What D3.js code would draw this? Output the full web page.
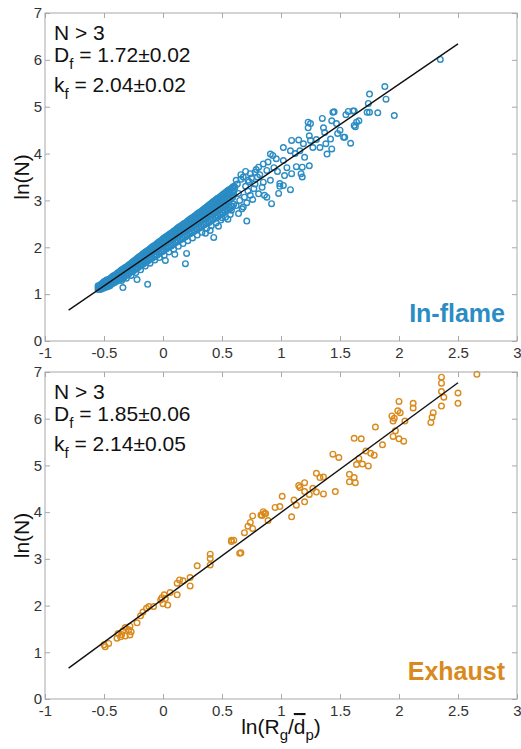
<!DOCTYPE html>
<html>
<head>
<meta charset="utf-8">
<script src="https://cdn.jsdelivr.net/npm/d3@7"></script>
<style>
  body { margin: 0; background: #fff; }
  text { font-family: "Liberation Sans", Arial, sans-serif; }
</style>
</head>
<body>
<div id="chart"></div>
<script>
// axis ticks
const xTicks = [-1, -0.5, 0, 0.5, 1, 1.5, 2, 2.5, 3];
const yTicks = [0, 1, 2, 3, 4, 5, 6, 7];

// fitted lines: ln(N) = ln(kf) + Df * ln(Rg/dp)
const fitX = [-0.8, 2.5];
const inFlameFitY = [0.66, 6.34];
const exhaustFitY = [0.66, 6.77];

const inFlameStats = ["1.72\u00b10.02", "2.04\u00b10.02"];
const exhaustStats = ["1.85\u00b10.06", "2.14\u00b10.05"];

// in-flame: dense core of the cloud, rows of [x, y, y, ...]
const inFlameCore = [
  [-0.55, 1.10, 1.14, 1.18], [-0.53, 1.10, 1.16, 1.20], [-0.51, 1.12, 1.19, 1.24, 1.14],
  [-0.49, 1.14, 1.22, 1.26, 1.17], [-0.47, 1.16, 1.25, 1.29, 1.20], [-0.45, 1.18, 1.30, 1.24, 1.33],
  [-0.43, 1.22, 1.33, 1.28, 1.37], [-0.41, 1.25, 1.38, 1.31, 1.40], [-0.39, 1.28, 1.40, 1.35, 1.44],
  [-0.37, 1.30, 1.45, 1.38, 1.47], [-0.35, 1.33, 1.48, 1.42, 1.52, 1.29], [-0.33, 1.36, 1.51, 1.45, 1.55],
  [-0.31, 1.40, 1.55, 1.49, 1.58, 1.34], [-0.29, 1.43, 1.60, 1.53, 1.62], [-0.27, 1.47, 1.62, 1.56, 1.66, 1.40],
  [-0.25, 1.50, 1.66, 1.60, 1.70], [-0.23, 1.53, 1.70, 1.63, 1.74, 1.46], [-0.21, 1.57, 1.73, 1.67, 1.78],
  [-0.19, 1.60, 1.77, 1.70, 1.82, 1.52], [-0.17, 1.64, 1.80, 1.74, 1.86], [-0.15, 1.67, 1.85, 1.77, 1.90, 1.60],
  [-0.13, 1.70, 1.88, 1.81, 1.93], [-0.11, 1.74, 1.91, 1.85, 1.97, 1.66], [-0.09, 1.77, 1.95, 1.88, 2.01],
  [-0.07, 1.80, 1.98, 1.92, 2.04, 1.73], [-0.05, 1.83, 2.02, 1.95, 2.08], [-0.03, 1.87, 2.05, 1.99, 2.12, 1.78],
  [-0.01, 1.90, 2.09, 2.02, 2.15], [0.01, 1.93, 2.12, 2.06, 2.20, 1.83], [0.03, 1.97, 2.16, 2.09, 2.23],
  [0.05, 2.00, 2.19, 2.13, 2.27, 1.90], [0.07, 2.03, 2.23, 2.16, 2.30], [0.09, 2.06, 2.26, 2.20, 2.34, 1.96],
  [0.11, 2.10, 2.30, 2.23, 2.38], [0.13, 2.13, 2.33, 2.26, 2.42, 2.02], [0.15, 2.16, 2.37, 2.30, 2.45],
  [0.17, 2.19, 2.40, 2.33, 2.49, 2.08], [0.19, 2.22, 2.44, 2.37, 2.52], [0.21, 2.25, 2.47, 2.40, 2.56, 2.14],
  [0.23, 2.29, 2.51, 2.44, 2.60], [0.25, 2.32, 2.54, 2.47, 2.63, 2.20], [0.27, 2.35, 2.58, 2.50, 2.67],
  [0.29, 2.38, 2.61, 2.54, 2.71, 2.26], [0.31, 2.41, 2.65, 2.57, 2.74], [0.33, 2.44, 2.69, 2.61, 2.78, 2.32],
  [0.35, 2.48, 2.72, 2.64, 2.82], [0.37, 2.50, 2.76, 2.68, 2.86, 2.40], [0.39, 2.53, 2.80, 2.71, 2.90],
  [0.41, 2.57, 2.83, 2.75, 2.94, 2.46], [0.43, 2.60, 2.87, 2.78, 2.98], [0.45, 2.63, 2.91, 2.82, 3.02, 2.52],
  [0.47, 2.66, 2.95, 2.85, 3.05], [0.49, 2.70, 2.98, 2.89, 3.09, 2.58], [0.51, 2.73, 3.02, 2.92, 3.13],
  [0.53, 2.76, 3.06, 2.96, 3.17, 2.64], [0.55, 2.80, 3.10, 2.99, 3.21], [0.57, 2.83, 3.14, 3.03, 3.24, 2.70],
  [0.59, 2.87, 3.17, 3.06, 3.28],
  [-0.54, 1.13, 1.17], [-0.52, 1.12, 1.18, 1.22], [-0.50, 1.15, 1.21, 1.27], [-0.48, 1.18, 1.23, 1.30],
  [-0.46, 1.19, 1.27, 1.32], [-0.44, 1.21, 1.31, 1.35], [-0.42, 1.26, 1.34, 1.39], [-0.40, 1.27, 1.37, 1.42],
  [-0.38, 1.31, 1.41, 1.46], [-0.36, 1.35, 1.44, 1.50], [-0.34, 1.38, 1.47, 1.53], [-0.32, 1.42, 1.52, 1.57],
  [-0.30, 1.45, 1.56, 1.60], [-0.28, 1.48, 1.58, 1.64], [-0.26, 1.52, 1.63, 1.68], [-0.24, 1.55, 1.65, 1.72],
  [-0.22, 1.58, 1.69, 1.76], [-0.20, 1.62, 1.72, 1.80], [-0.18, 1.65, 1.76, 1.83], [-0.16, 1.69, 1.79, 1.87],
  [-0.14, 1.72, 1.83, 1.91], [-0.12, 1.75, 1.86, 1.95], [-0.10, 1.79, 1.90, 1.99], [-0.08, 1.82, 1.93, 2.03],
  [-0.06, 1.86, 1.97, 2.06], [-0.04, 1.89, 2.00, 2.10], [-0.02, 1.92, 2.04, 2.14], [0.00, 1.95, 2.07, 2.18],
  [0.02, 1.99, 2.11, 2.22], [0.04, 2.02, 2.14, 2.25], [0.06, 2.05, 2.18, 2.29], [0.08, 2.08, 2.21, 2.32],
  [0.10, 2.12, 2.25, 2.36], [0.12, 2.15, 2.28, 2.40], [0.14, 2.18, 2.32, 2.44], [0.16, 2.21, 2.35, 2.47],
  [0.18, 2.24, 2.39, 2.51], [0.20, 2.27, 2.42, 2.54], [0.22, 2.31, 2.46, 2.58], [0.24, 2.34, 2.49, 2.62],
  [0.26, 2.36, 2.53, 2.65], [0.28, 2.40, 2.56, 2.69], [0.30, 2.43, 2.60, 2.73], [0.32, 2.46, 2.63, 2.76],
  [0.34, 2.49, 2.67, 2.80], [0.36, 2.52, 2.70, 2.84], [0.38, 2.55, 2.74, 2.88], [0.40, 2.58, 2.77, 2.92],
  [0.42, 2.61, 2.81, 2.96], [0.44, 2.65, 2.84, 3.00], [0.46, 2.68, 2.88, 3.04], [0.48, 2.72, 2.91, 3.07],
  [0.50, 2.75, 2.95, 3.11], [0.52, 2.78, 2.98, 3.15], [0.54, 2.82, 3.02, 3.19], [0.56, 2.85, 3.05, 3.23],
  [0.58, 2.88, 3.09, 3.26], [0.60, 2.92, 3.12, 3.30]
];

// in-flame: scattered points around and above the core
const inFlameScatter = [
  [2.35, 6.01], [1.88, 5.43], [1.89, 5.16], [1.96, 4.81], [1.75, 5.27], [1.74, 5.07], [1.73, 4.88],
  [1.75, 4.88], [1.82, 4.87], [1.62, 4.91], [1.57, 4.90], [1.55, 4.83], [1.66, 4.70], [1.62, 4.60],
  [1.64, 4.67], [1.59, 4.22], [1.54, 4.35], [1.48, 4.43], [1.44, 4.88], [1.43, 4.70], [1.47, 4.64],
  [1.25, 4.64], [1.23, 4.55], [1.36, 4.55], [1.37, 4.45], [1.42, 4.31], [1.43, 4.10], [1.38, 4.21],
  [1.39, 3.99], [1.33, 4.13], [1.24, 4.38], [1.25, 4.28], [1.27, 4.13], [1.19, 4.21], [1.15, 4.29],
  [1.09, 4.28], [1.02, 4.13], [1.08, 4.06], [1.16, 4.06], [1.20, 3.92], [1.24, 3.74], [1.18, 3.71],
  [1.13, 3.72], [1.18, 3.50], [1.17, 3.57], [1.09, 3.57], [1.03, 3.53], [0.99, 3.36], [1.08, 3.23],
  [1.02, 3.85], [0.96, 3.89], [0.93, 3.96], [0.91, 3.99], [0.85, 3.78], [0.88, 3.64], [0.81, 3.71],
  [0.78, 3.60], [0.74, 3.57], [0.72, 3.43], [0.68, 3.50], [0.62, 3.43], [0.61, 3.28], [0.85, 3.39],
  [0.91, 3.43], [0.84, 3.28], [0.77, 3.25], [0.81, 3.14], [0.86, 3.11], [0.92, 2.93], [0.88, 3.07],
  [0.74, 3.11], [0.69, 3.07], [0.65, 3.00], [0.68, 2.86], [0.62, 2.89], [0.64, 2.72], [0.58, 2.79],
  [1.02, 3.32], [0.99, 3.30], [1.61, 4.91], [1.45, 4.89], [1.63, 4.57], [1.53, 4.35], [1.23, 4.67],
  [1.12, 4.00], [1.05, 3.70], [0.97, 3.62], [1.30, 4.30], [1.35, 4.75], [1.50, 4.50],
  [0.60, 3.20], [0.63, 3.35], [0.66, 3.45], [0.70, 3.30], [0.73, 3.40], [0.75, 3.48], [0.70, 3.62],
  [0.66, 3.55], [0.78, 3.35], [0.80, 3.50], [0.82, 3.55], [0.79, 3.66], [0.76, 3.02], [0.71, 2.95],
  [0.67, 2.82], [0.64, 3.15], [0.72, 3.20], [0.94, 3.70], [0.89, 3.82], [0.98, 3.15],
  [-0.13, 1.21], [0.19, 1.65], [0.20, 1.87], [0.02, 1.72], [-0.34, 1.14], [-0.22, 1.31], [0.43, 2.21],
  [0.40, 2.36], [0.71, 2.56], [0.50, 2.63], [0.55, 2.60], [0.47, 2.45], [0.36, 2.30], [0.10, 1.85]
];

// exhaust points [x, y]
const exhaustPoints = [
  [2.66, 6.95], [2.36, 6.89], [2.36, 6.76], [2.36, 6.58], [2.38, 6.46], [2.36, 6.27], [2.50, 6.55],
  [2.50, 6.33], [2.29, 6.13], [2.28, 6.03], [2.27, 5.92], [2.00, 6.37], [2.12, 6.33], [2.12, 6.23],
  [1.99, 6.17], [2.01, 6.13], [1.94, 6.06], [1.96, 6.01], [1.95, 5.95], [2.05, 5.95], [1.97, 5.74],
  [1.95, 5.62], [2.00, 5.57], [2.04, 5.52], [1.80, 5.82], [1.86, 5.44], [1.62, 5.58], [1.68, 5.57],
  [1.44, 5.24], [1.49, 5.17], [1.72, 5.31], [1.76, 5.26], [1.79, 5.22], [1.66, 5.15], [1.64, 5.02],
  [1.69, 5.03], [1.74, 4.99], [1.58, 4.81], [1.62, 4.74], [1.58, 4.65], [1.63, 4.63], [1.46, 4.44],
  [1.30, 4.83], [1.33, 4.74], [1.36, 4.75], [1.20, 4.63], [1.15, 4.57], [1.16, 4.53], [1.27, 4.51],
  [1.20, 4.44], [1.24, 4.38], [1.30, 4.43], [1.36, 4.39], [1.11, 4.26], [1.13, 4.15], [1.20, 4.22],
  [1.01, 4.34], [0.95, 4.10], [0.99, 4.12], [1.09, 3.90], [0.84, 3.93], [0.86, 3.97], [0.89, 3.82],
  [0.85, 4.01], [0.87, 3.97], [0.83, 3.94], [0.76, 3.92], [0.74, 3.78], [0.72, 3.70], [0.76, 3.65],
  [0.69, 3.56], [0.58, 3.40], [0.60, 3.40], [0.66, 3.13], [0.40, 3.10], [0.40, 3.01], [0.40, 2.87],
  [0.29, 2.85], [0.23, 2.60], [0.14, 2.55], [0.17, 2.53], [0.12, 2.48], [0.23, 2.42], [0.12, 2.23],
  [0.06, 2.28], [0.01, 2.23], [-0.01, 2.17], [-0.02, 2.12], [0.00, 2.04], [0.04, 2.01], [0.02, 2.15],
  [-0.08, 1.98], [-0.12, 1.98], [-0.14, 1.94], [-0.17, 1.86], [-0.19, 1.78], [-0.22, 1.63],
  [-0.28, 1.56], [-0.32, 1.53], [-0.29, 1.48], [-0.34, 1.46], [-0.27, 1.44], [-0.38, 1.40],
  [-0.35, 1.38], [-0.28, 1.37], [-0.32, 1.35], [-0.39, 1.30], [-0.36, 1.33], [-0.46, 1.19],
  [-0.49, 1.12], [-0.50, 1.16], [0.65, 3.12], [0.58, 3.37]
];

const inFlamePoints = inFlameCore
  .flatMap(r => r.slice(1).map(y => [r[0], y]))
  .concat(inFlameScatter);

const panels = [
  { label: "In-flame", color: "#2b8cc4", points: inFlamePoints, fitY: inFlameFitY, stats: inFlameStats, top: 13, bottom: 341 },
  { label: "Exhaust", color: "#da8a1c", points: exhaustPoints, fitY: exhaustFitY, stats: exhaustStats, top: 372, bottom: 699 }
];

const width = 521, height = 749;
const left = 45, right = 517;
const axisColor = "#a8a8a8";
const labelColor = "#333";

const svg = d3.select("#chart").append("svg")
  .attr("width", width)
  .attr("height", height);

const x = d3.scaleLinear().domain([-1, 3]).range([left, right]);
const fmt = d => String(d);

panels.forEach((p, i) => {
  const y = d3.scaleLinear().domain([0, 7]).range([p.bottom, p.top]);
  const g = svg.append("g");

  // points
  g.append("g").selectAll("circle")
    .data(p.points)
    .enter().append("circle")
    .attr("cx", d => x(d[0]))
    .attr("cy", d => y(d[1]))
    .attr("r", 2.8)
    .attr("fill", "none")
    .attr("stroke", p.color)
    .attr("stroke-width", 1.4);

  // fit line
  g.append("line")
    .attr("x1", x(fitX[0])).attr("y1", y(p.fitY[0]))
    .attr("x2", x(fitX[1])).attr("y2", y(p.fitY[1]))
    .attr("stroke", "#111")
    .attr("stroke-width", 1.4);

  // axes, ticks pointing inward
  const ax = [
    g.append("g").attr("transform", `translate(0,${p.bottom})`)
      .call(d3.axisBottom(x).tickValues(xTicks).tickSize(-5).tickSizeOuter(0).tickPadding(6).tickFormat(fmt)),
    g.append("g").attr("transform", `translate(0,${p.top})`)
      .call(d3.axisTop(x).tickValues(xTicks).tickSize(-5).tickSizeOuter(0).tickFormat("")),
    g.append("g").attr("transform", `translate(${left},0)`)
      .call(d3.axisLeft(y).tickValues(yTicks).tickSize(-5).tickSizeOuter(0).tickPadding(3).tickFormat(fmt)),
    g.append("g").attr("transform", `translate(${right},0)`)
      .call(d3.axisRight(y).tickValues(yTicks).tickSize(-5).tickSizeOuter(0).tickFormat(""))
  ];
  ax.forEach(a => {
    a.select(".domain").remove();
    a.selectAll("line").attr("stroke", axisColor);
    a.selectAll("text").attr("fill", labelColor).style("font-size", "15px");
  });

  g.append("rect")
    .attr("x", left).attr("y", p.top)
    .attr("width", right - left).attr("height", p.bottom - p.top)
    .attr("fill", "none")
    .attr("stroke", axisColor)
    .attr("stroke-width", 1);

  // y axis title
  g.append("text")
    .attr("transform", `translate(29,${(p.top + p.bottom) / 2}) rotate(-90)`)
    .attr("text-anchor", "middle")
    .attr("fill", "#111")
    .style("font-size", "21px")
    .text("ln(N)");

  // stats text
  const tx = 54;
  g.append("text").attr("x", tx).attr("y", p.top + 27)
    .attr("fill", "#111").style("font-size", "21px").text("N > 3");
  [["D", p.stats[0], 49], ["k", p.stats[1], 79]].forEach(s => {
    const t = g.append("text").attr("x", tx).attr("y", p.top + s[2])
      .attr("fill", "#111").style("font-size", "21px");
    t.append("tspan").text(s[0]);
    t.append("tspan").attr("dy", 7).style("font-size", "15px").text("f");
    t.append("tspan").attr("dy", -7).text(" = " + s[1]);
  });

  // panel label
  g.append("text")
    .attr("x", 505).attr("y", p.bottom - 19)
    .attr("text-anchor", "end")
    .attr("fill", p.color)
    .style("font-size", "25px")
    .style("font-weight", "bold")
    .text(p.label);
});

// x axis title
const xt = svg.append("text")
  .attr("x", 281).attr("y", 734)
  .attr("text-anchor", "middle")
  .attr("fill", "#111")
  .style("font-size", "21px");
xt.append("tspan").text("ln(R");
xt.append("tspan").attr("dy", 6).style("font-size", "15px").text("g");
xt.append("tspan").attr("dy", -6).text("/");
xt.append("tspan").style("text-decoration", "overline").text("d");
xt.append("tspan").attr("dy", 6).style("font-size", "15px").text("p");
xt.append("tspan").attr("dy", -6).text(")");
</script>
</body>
</html>
